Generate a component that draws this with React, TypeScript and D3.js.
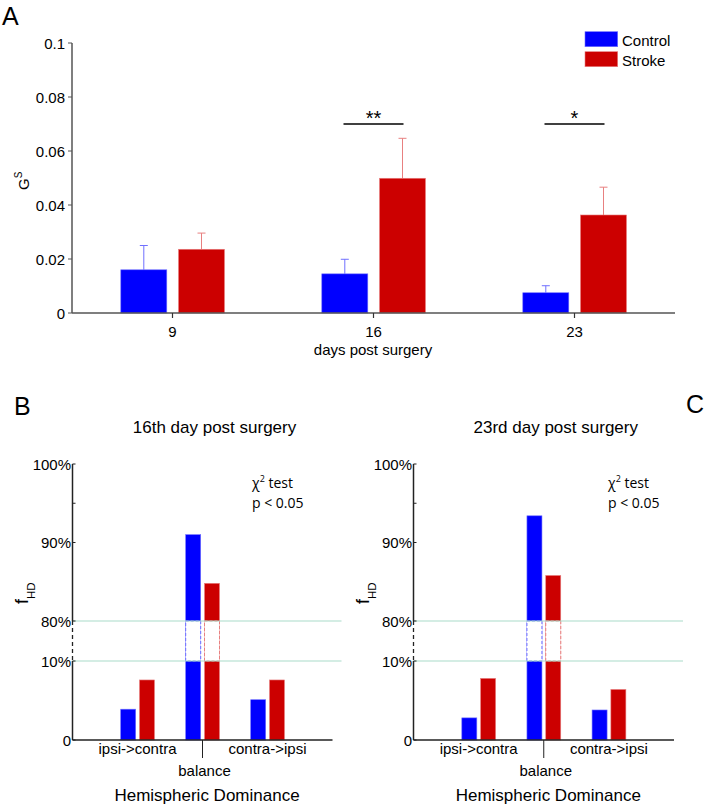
import React from 'react';
import * as d3 from 'd3';

// Panel A: G^S per day post surgery (mean and upper error)
const days = [9, 16, 23];
const controlMean = [0.016, 0.0145, 0.0075];
const controlErr = [0.009, 0.0054, 0.0026];
const strokeMean = [0.0236, 0.0499, 0.0363];
const strokeErr = [0.006, 0.0148, 0.0103];
const gsTicks = [0, 0.02, 0.04, 0.06, 0.08, 0.1];
const sigDays = [16, 23];
const sigMarks = ['**', '*'];
const sigLevel = 0.07;

// Panels B and C: hemispheric dominance frequencies (%)
const hdCategories = ['ipsi->contra', 'balance', 'contra->ipsi'];
const hdPositions = [-1, 0, 1];
const day16Control = [3.9, 91.0, 5.1];
const day16Stroke = [7.6, 84.8, 7.6];
const day23Control = [2.8, 93.4, 3.8];
const day23Stroke = [7.8, 85.8, 6.4];
const hdTicks = [0, 10, 80, 90, 100];
const hdTickLabels = ['0', '10%', '80%', '90%', '100%'];
const hdMinorTicks = [95];
const breakLow = 10;
const breakHigh = 80;

const BLUE = '#0000ff';
const RED = '#cc0000';
const BLUE_EDGE = '#7070ff';
const RED_EDGE = '#e88080';
const GRID = '#a9dcc9';
const FONT = '"Liberation Sans", Arial, sans-serif';

const PanelA: React.FC = () => {
  const x = d3.scaleLinear().domain([5.5, 26.5]).range([72, 675]);
  const y = d3.scaleLinear().domain([0, 0.1]).range([313, 43]);
  const barW = 46;
  const series = [
    { mean: controlMean, err: controlErr, fill: BLUE, edge: BLUE_EDGE, dx: -51.7 },
    { mean: strokeMean, err: strokeErr, fill: RED, edge: RED_EDGE, dx: 6 },
  ];
  return (
    <g fontFamily={FONT}>
      <text x={2} y={25} fontSize={25}>A</text>
      {series.map((s, si) =>
        days.map((d, i) => {
          const x0 = x(d) + s.dx;
          const cx = x0 + barW / 2;
          return (
            <g key={`${si}-${i}`}>
              <line x1={cx} x2={cx} y1={y(s.mean[i])} y2={y(s.mean[i] + s.err[i])} stroke={s.edge} strokeWidth={1} />
              <line x1={cx - 4} x2={cx + 4} y1={y(s.mean[i] + s.err[i])} y2={y(s.mean[i] + s.err[i])} stroke={s.edge} strokeWidth={1} />
              <rect x={x0} y={y(s.mean[i])} width={barW} height={y(0) - y(s.mean[i])} fill={s.fill} stroke={s.edge} strokeWidth={0.6} />
            </g>
          );
        })
      )}
      {/* axes */}
      <line x1={72} x2={72} y1={y(0.1)} y2={y(0)} stroke="#555" strokeWidth={1.5} />
      <line x1={72} x2={675} y1={y(0)} y2={y(0)} stroke="#555" strokeWidth={1.5} />
      {gsTicks.map(t => (
        <g key={t}>
          <line x1={68} x2={72} y1={y(t)} y2={y(t)} stroke="#555" strokeWidth={1} />
          <text x={65} y={y(t) + 5.5} fontSize={15} textAnchor="end">{`${+t.toFixed(2)}`}</text>
        </g>
      ))}
      {days.map(d => (
        <g key={d}>
          <line x1={x(d)} x2={x(d)} y1={y(0)} y2={y(0) + 5} stroke="#333" strokeWidth={1.2} />
          <text x={x(d)} y={337} fontSize={15} textAnchor="middle">{d}</text>
        </g>
      ))}
      <text x={373} y={355} fontSize={15} textAnchor="middle">days post surgery</text>
      <text transform="translate(29,190) rotate(-90)" fontSize={15}>
        G<tspan fontSize={10} dy={-7}>S</tspan>
      </text>
      {/* significance */}
      {sigDays.map((d, i) => (
        <g key={d}>
          <line x1={x(d) - 30} x2={x(d) + 30} y1={y(sigLevel)} y2={y(sigLevel)} stroke="#000" strokeWidth={1.5} />
          <text x={x(d)} y={y(sigLevel) + 0.5} fontSize={20} textAnchor="middle">{sigMarks[i]}</text>
        </g>
      ))}
      {/* legend */}
      <rect x={585} y={31.7} width={32.7} height={15} fill={BLUE} stroke={BLUE_EDGE} strokeWidth={0.6} />
      <rect x={585} y={51.7} width={32.7} height={15} fill={RED} stroke={RED_EDGE} strokeWidth={0.6} />
      <text x={622} y={45.5} fontSize={15}>Control</text>
      <text x={622} y={65.5} fontSize={15}>Stroke</text>
    </g>
  );
};

interface HDProps {
  left: number;
  right: number;
  title: string;
  control: number[];
  stroke: number[];
  labelX: number;
}

const HDPanel: React.FC<HDProps> = ({ left, right, title, control, stroke, labelX }) => {
  const x = d3.scaleLinear().domain([-2, 2]).range([left, right]);
  const y = d3.scaleLinear().domain([0, breakLow, breakHigh, 100]).range([740, 661, 621, 464]);
  const barW = 15;
  const series = [
    { vals: control, fill: BLUE, edge: BLUE_EDGE, dx: -16.8 },
    { vals: stroke, fill: RED, edge: RED_EDGE, dx: 2 },
  ];
  const mid = (left + right) / 2;
  return (
    <g fontFamily={FONT}>
      <text x={mid + 12} y={433} fontSize={17} textAnchor="middle">{title}</text>
      {series.map((s, si) =>
        hdPositions.map((p, i) => {
          const x0 = x(p) + s.dx;
          const v = s.vals[i];
          return (
            <g key={`${si}-${i}`}>
              <rect x={x0} y={y(v)} width={barW} height={y(0) - y(v)} fill={s.fill} stroke={s.edge} strokeWidth={0.6} />
              {v > breakHigh && (
                <rect x={x0} y={y(breakHigh)} width={barW} height={y(breakLow) - y(breakHigh)} fill="#fff" stroke={s.edge} strokeWidth={1} strokeDasharray="3,2" />
              )}
            </g>
          );
        })
      )}
      {[breakHigh, breakLow].map(t => (
        <line key={t} x1={left} x2={right + 9} y1={y(t)} y2={y(t)} stroke={GRID} strokeWidth={1.2} />
      ))}
      {/* axes */}
      <line x1={left} x2={left} y1={y(100)} y2={y(breakHigh)} stroke="#222" strokeWidth={1.5} />
      <line x1={left} x2={left} y1={y(breakHigh)} y2={y(breakLow)} stroke="#222" strokeWidth={1.3} strokeDasharray="4,3" />
      <line x1={left} x2={left} y1={y(breakLow)} y2={y(0)} stroke="#222" strokeWidth={1.5} />
      <line x1={left} x2={right} y1={y(0)} y2={y(0)} stroke="#222" strokeWidth={1.5} />
      {hdTicks.map((t, i) => (
        <g key={t}>
          <line x1={left} x2={left + 3} y1={y(t)} y2={y(t)} stroke="#222" strokeWidth={1} />
          <text x={left - 1.5} y={y(t) + 5.5} fontSize={15} textAnchor="end">{hdTickLabels[i]}</text>
        </g>
      ))}
      {hdMinorTicks.map(t => (
        <line key={t} x1={left} x2={left + 3} y1={y(t)} y2={y(t)} stroke="#222" strokeWidth={1} />
      ))}
      <line x1={x(0)} x2={x(0)} y1={y(0)} y2={y(0) + 18} stroke="#222" strokeWidth={1} />
      {hdCategories.map((c, i) => (
        <text key={c} x={x(hdPositions[i]) + (hdPositions[i] === 0 ? 2 : 0)} y={hdPositions[i] === 0 ? 776 : 754} fontSize={15} textAnchor="middle">{c}</text>
      ))}
      <text x={mid + 4.5} y={801} fontSize={17} textAnchor="middle">Hemispheric Dominance</text>
      <text transform={`translate(${left - 45},604) rotate(-90)`} fontSize={18}>
        f<tspan fontSize={11.5} dy={7}>HD</tspan>
      </text>
      <g fontFamily='"Open Sans", sans-serif' fontSize={14}>
        <text x={labelX} y={488}>χ<tspan fontSize={9} dy={-6}>2</tspan><tspan dy={6}> test</tspan></text>
        <text x={labelX} y={508}>p &lt; 0.05</text>
      </g>
    </g>
  );
};

const App: React.FC = () => {
  return (
    <svg width={710} height={808} style={{ position: 'absolute', left: 0, top: 0, background: '#fff' }}>
      <PanelA />
      <text x={14} y={415} fontSize={25} fontFamily={FONT}>B</text>
      <text x={686} y={413} fontSize={25} fontFamily={FONT}>C</text>
      <HDPanel left={72.5} right={332.5} title="16th day post surgery" control={day16Control} stroke={day16Stroke} labelX={252} />
      <HDPanel left={413.5} right={674} title="23rd day post surgery" control={day23Control} stroke={day23Stroke} labelX={608} />
    </svg>
  );
};

export default App;
